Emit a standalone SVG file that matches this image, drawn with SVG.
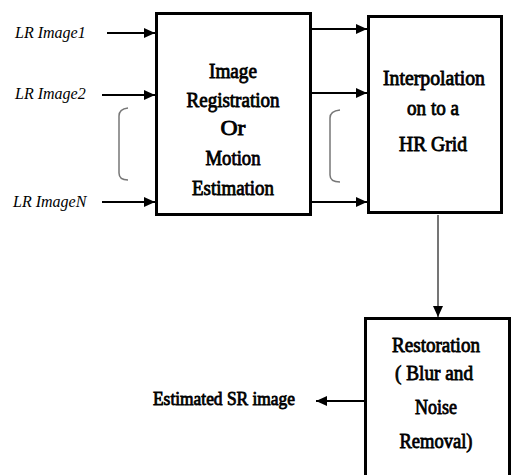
<svg xmlns="http://www.w3.org/2000/svg" width="512" height="475" viewBox="0 0 512 475">
<style>
.box{fill:#fff;stroke:#000;stroke-width:3}
.t{font-family:"Liberation Serif","Times New Roman",serif;font-weight:normal;font-size:20px;fill:#000;stroke:#000;stroke-width:0.8;text-anchor:middle}
.lab{font-family:"Liberation Serif","Times New Roman",serif;font-style:italic;font-size:16px;fill:#000}
.ln{stroke:#000;stroke-width:1.8;fill:none}
.gl{stroke:#666;stroke-width:1.8;fill:none}
.br{stroke:#777;stroke-width:1.5;fill:none}
</style>
<defs>
<marker id="ah" markerWidth="11" markerHeight="10" refX="11" refY="5" orient="auto" markerUnits="userSpaceOnUse">
<path d="M0,0 L11,5 L0,10 Z" fill="#000"/>
</marker>
</defs>
<rect width="512" height="475" fill="#fff"/>
<g id="connectors">
<line class="ln" x1="107" y1="33" x2="155" y2="33" marker-end="url(#ah)"/>
<line class="ln" x1="102" y1="95" x2="155" y2="95" marker-end="url(#ah)"/>
<line class="ln" x1="102" y1="202" x2="155" y2="202" marker-end="url(#ah)"/>
<line class="ln" x1="311" y1="29" x2="367" y2="29" marker-end="url(#ah)"/>
<line class="ln" x1="311" y1="93" x2="367" y2="93" marker-end="url(#ah)"/>
<line class="ln" x1="311" y1="202" x2="367" y2="202" marker-end="url(#ah)"/>
<line class="gl" x1="438" y1="215" x2="438" y2="317" marker-end="url(#ah)"/>
<line class="ln" x1="364" y1="401" x2="316" y2="401" marker-end="url(#ah)"/>
<path class="br" d="M128,108 Q119,109 119,116 L119,173 Q119,180 128,180"/>
<path class="br" d="M340,110 Q330,111 330,118 L330,175 Q330,182 340,182"/>
</g>
<g id="inputs">
<text class="lab" x="15" y="38">LR Image1</text>
<text class="lab" x="15" y="99">LR Image2</text>
<text class="lab" x="13" y="207">LR ImageN</text>
</g>
<g id="registration">
<rect class="box" x="156.5" y="13.5" width="154" height="201"/>
<text class="t" x="233" y="78" textLength="48" lengthAdjust="spacingAndGlyphs">Image</text>
<text class="t" x="233" y="107" textLength="93" lengthAdjust="spacingAndGlyphs">Registration</text>
<text class="t" x="233" y="135" textLength="25" lengthAdjust="spacingAndGlyphs">Or</text>
<text class="t" x="233" y="165" textLength="55" lengthAdjust="spacingAndGlyphs">Motion</text>
<text class="t" x="233" y="195" textLength="82" lengthAdjust="spacingAndGlyphs">Estimation</text>
</g>
<g id="interpolation">
<rect class="box" x="368.5" y="16.5" width="133" height="196"/>
<text class="t" x="434" y="85" textLength="102" lengthAdjust="spacingAndGlyphs">Interpolation</text>
<text class="t" x="433" y="115" textLength="52" lengthAdjust="spacingAndGlyphs">on to a</text>
<text class="t" x="433" y="151" textLength="68" lengthAdjust="spacingAndGlyphs">HR Grid</text>
</g>
<g id="restoration">
<rect class="box" x="365.5" y="318.5" width="144" height="160"/>
<text class="t" x="436" y="352" textLength="88" lengthAdjust="spacingAndGlyphs">Restoration</text>
<text class="t" x="434" y="380" textLength="78" lengthAdjust="spacingAndGlyphs">( Blur and</text>
<text class="t" x="436" y="414" textLength="42" lengthAdjust="spacingAndGlyphs">Noise</text>
<text class="t" x="436" y="448" textLength="73" lengthAdjust="spacingAndGlyphs">Removal)</text>
</g>
<g id="output">
<text class="t" x="224" y="405" style="font-size:18px" textLength="142" lengthAdjust="spacingAndGlyphs">Estimated SR image</text>
</g>
</svg>
